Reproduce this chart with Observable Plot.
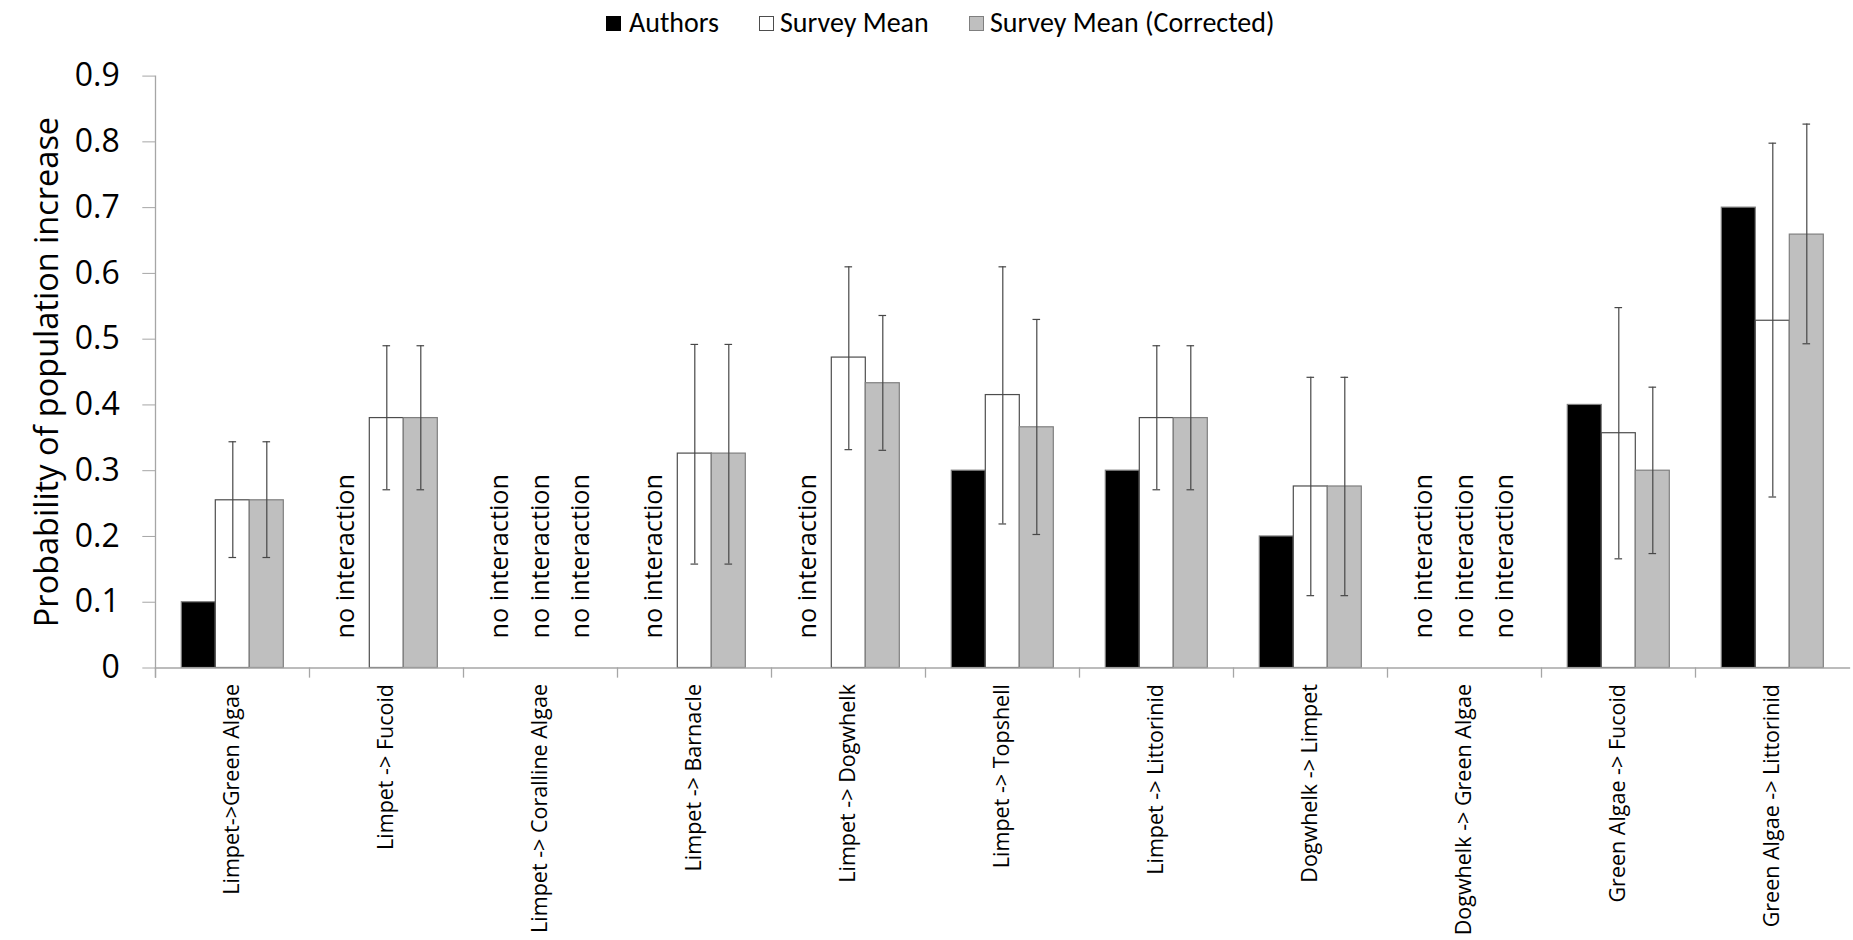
<!DOCTYPE html>
<html>
<head>
<meta charset="utf-8">
<script src="https://cdn.jsdelivr.net/npm/d3@7"></script>
<script src="https://cdn.jsdelivr.net/npm/@observablehq/plot@0.6"></script>
<style>
  html, body { margin: 0; padding: 0; background: #ffffff; }
  #legend { position: relative; width: 1853px; height: 46px; font-family: Carlito, Lato, "Liberation Sans", sans-serif; font-size: 28px; color: #000; }
  #legend .sw { position: absolute; top: 16px; width: 15px; height: 15px; box-sizing: border-box; border: 1px solid #595959; }
  #legend .lt { position: absolute; top: 9px; line-height: 28px; white-space: nowrap; }
  #chart svg { display: block; }
</style>
</head>
<body>
<div id="legend"></div>
<div id="chart"></div>
<script>
// ---------- data ----------
const categories = [
  "Limpet->Green Algae",
  "Limpet -> Fucoid",
  "Limpet -> Coralline Algae",
  "Limpet -> Barnacle",
  "Limpet -> Dogwhelk",
  "Limpet -> Topshell",
  "Limpet -> Littorinid",
  "Dogwhelk -> Limpet",
  "Dogwhelk -> Green Algae",
  "Green Algae -> Fucoid",
  "Green Algae -> Littorinid"
];
const seriesNames = ["Authors", "Survey Mean", "Survey Mean (Corrected)"];

const authors       = [0.10, null, null, null,  null,  0.30,  0.30, 0.20,  null, 0.40,  0.70];
const surveyMean    = [0.255, 0.38, null, 0.326, 0.472, 0.415, 0.38, 0.276, null, 0.357, 0.528];
const surveyLow     = [0.168, 0.271, null, 0.158, 0.332, 0.219, 0.271, 0.11, null, 0.166, 0.26];
const surveyHigh    = [0.344, 0.49, null, 0.492, 0.61,  0.61,  0.49, 0.442, null, 0.548, 0.798];
const corrected     = [0.255, 0.38, null, 0.326, 0.433, 0.366, 0.38, 0.276, null, 0.30,  0.659];
const correctedLow  = [0.168, 0.271, null, 0.158, 0.331, 0.203, 0.271, 0.11, null, 0.174, 0.493];
const correctedHigh = [0.344, 0.49, null, 0.492, 0.536, 0.53,  0.49, 0.442, null, 0.427, 0.827];

const yTicks = [0, 0.1, 0.2, 0.3, 0.4, 0.5, 0.6, 0.7, 0.8, 0.9];
const yTickLabels = ["0", "0.1", "0.2", "0.3", "0.4", "0.5", "0.6", "0.7", "0.8", "0.9"];
const yLabel = "Probability of population increase";
const noDataLabel = "no interaction";

// ---------- styles ----------
const FONT = "Open Sans, Noto Sans, sans-serif";
const seriesFill   = ["#000000", "#ffffff", "#bfbfbf"];
const seriesStroke = ["#7f7f7f", "#4d4d4d", "#7f7f7f"];
const noDataDx     = [-7, 0, 6];
const axisGrey = "#a6a6a6";
const errColor = "#474747";

// ---------- table ----------
const valueSets = [authors, surveyMean, corrected];
const lowSets   = [null, surveyLow, correctedLow];
const highSets  = [null, surveyHigh, correctedHigh];
const rows = [];
categories.forEach((c, i) => {
  seriesNames.forEach((s, j) => {
    rows.push({
      category: c,
      series: s,
      value: valueSets[j][i],
      lo: lowSets[j] ? lowSets[j][i] : null,
      hi: highSets[j] ? highSets[j][i] : null
    });
  });
});

// ---------- legend ----------
const legendPos = [[606, 629], [759, 780], [969, 990]];
const legend = document.getElementById("legend");
seriesNames.forEach((s, j) => {
  const sw = document.createElement("div");
  sw.className = "sw";
  sw.style.left = legendPos[j][0] + "px";
  sw.style.background = seriesFill[j];
  sw.style.borderColor = j === 0 ? "#000" : seriesStroke[j];
  legend.appendChild(sw);
  const t = document.createElement("div");
  t.className = "lt";
  t.style.left = legendPos[j][1] + "px";
  t.textContent = s;
  legend.appendChild(t);
});

// ---------- chart ----------
const W = 1853, H = 894;
const mL = 151.7, mR = 0, mT = 29.6, mB = 272.5;
const plotH = H - mT - mB;

const marks = [];
seriesNames.forEach((s, j) => {
  marks.push(Plot.barY(rows.filter(r => r.series === s && r.value != null), {
    fx: "category", x: "series", y: "value",
    fill: seriesFill[j], stroke: seriesStroke[j], strokeWidth: 1.2
  }));
});
const errRows = rows.filter(r => r.lo != null);
marks.push(Plot.ruleX(errRows, {fx: "category", x: "series", y1: "lo", y2: "hi", stroke: errColor, strokeWidth: 1.2}));
marks.push(Plot.tickY(errRows, {fx: "category", x: "series", y: "lo", stroke: errColor, strokeWidth: 1.2, insetLeft: 13.2, insetRight: 13.2}));
marks.push(Plot.tickY(errRows, {fx: "category", x: "series", y: "hi", stroke: errColor, strokeWidth: 1.2, insetLeft: 13.2, insetRight: 13.2}));
seriesNames.forEach((s, j) => {
  marks.push(Plot.text(rows.filter(r => r.series === s && r.value == null), {
    fx: "category", x: "series", frameAnchor: "bottom",
    text: () => noDataLabel, rotate: -90, textAnchor: "start", lineAnchor: "middle",
    fontFamily: FONT, fontSize: 25.2, fill: "#000", dy: -29.5, dx: noDataDx[j]
  }));
});
// category boundary ticks below axis
marks.push(Plot.frame({anchor: "left", stroke: axisGrey, strokeWidth: 1.3, insetTop: plotH, insetBottom: -9}));
// axis lines
marks.push(Plot.frame({facet: "super", anchor: "bottom", stroke: axisGrey, strokeWidth: 1.3}));
marks.push(Plot.frame({facet: "super", anchor: "left", stroke: axisGrey, strokeWidth: 1.3, insetBottom: -9}));
// axes
marks.push(Plot.axisY({ticks: yTicks, tickFormat: (d, i) => yTickLabels[i], tickSize: 12.7, tickPadding: 23, fontFamily: FONT, fontSize: 32, stroke: axisGrey, fill: "#000", label: null}));
marks.push(Plot.axisFx({anchor: "bottom", tickSize: 0, tickPadding: 16, tickRotate: -90, fontFamily: FONT, fontSize: 21.5, fill: "#000", label: null}));
marks.push(Plot.text([yLabel], {facet: "super", frameAnchor: "left", text: d => d, rotate: -90, textAnchor: "middle", lineAnchor: "middle", fontFamily: FONT, fontSize: 32.5, fill: "#000", dx: -108}));

const chart = Plot.plot({
  width: W, height: H,
  marginLeft: mL, marginRight: mR, marginTop: mT, marginBottom: mB,
  style: {fontFamily: FONT, background: "#ffffff", color: "#000"},
  fx: {domain: categories, padding: 0, label: null},
  x: {domain: seriesNames, paddingInner: 0, paddingOuter: 0.741, axis: null},
  y: {domain: [0, 0.9], axis: null},
  marks
});
document.getElementById("chart").appendChild(chart);
</script>
</body>
</html>
